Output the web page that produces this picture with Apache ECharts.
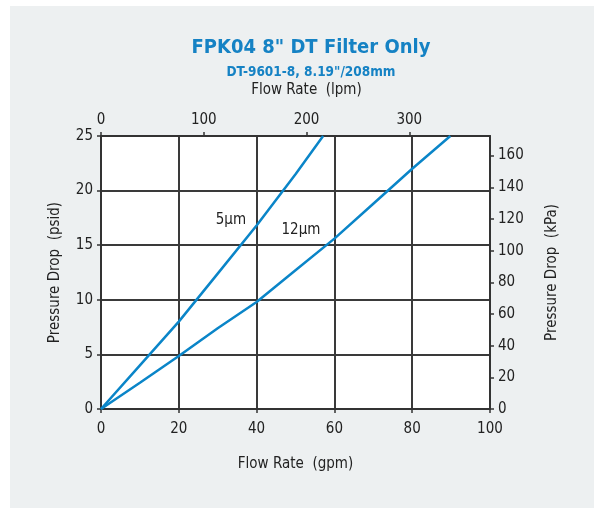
<!DOCTYPE html>
<html>
<head>
<meta charset="utf-8">
<script src="https://cdn.jsdelivr.net/npm/echarts@6/dist/echarts.min.js"></script>
<style>
html,body{margin:0;padding:0;background:#fff;}
#chart{width:594px;height:508px;background:linear-gradient(#edf0f1,#edf0f1) 10px 6px / 584px 502px no-repeat, #fff;}
</style>
</head>
<body>
<div id="chart"></div>
<script>
// Data (gpm, psid)
const gpm5 = [0, 10, 20, 30, 40, 50, 57.1];
const psid5 = [0, 4.0, 8.0, 12.4, 16.8, 21.5, 25];
const gpm12 = [0, 10, 20, 30, 40, 50, 60, 70, 80, 89.8];
const psid12 = [0, 2.4, 4.85, 7.4, 9.8, 12.7, 15.6, 18.8, 22.0, 25];
const seriesNames = ['5µm', '12µm'];
const labelPos5 = [33.4, 17.3];
const labelPos12 = [51.4, 16.4];
const GPM_TO_LPM = 3.78541;
const PSI_TO_KPA = 6.89476;

const FONT = '"Liberation Sans Narrow", "DejaVu Sans Condensed", "Roboto", sans-serif';
const axisColor = '#333';
const blue = '#0a85c8';

function zip(a, b) { return a.map((v, i) => [v, b[i]]); }

const chart = echarts.init(document.getElementById('chart'), null, {renderer: 'canvas'});
const tickLbl = {color: '#222', fontFamily: FONT, fontSize: 15};
const nameStyle = {color: '#222', fontFamily: FONT, fontSize: 15};

chart.setOption({
  backgroundColor: 'transparent',
  animation: false,
  title: [
    {text: 'FPK04 8" DT Filter Only', left: 306, top: 33, textAlign: 'center',
     textStyle: {color: '#1582c4', fontFamily: FONT, fontWeight: 'bold', fontSize: 20}},
    {text: 'DT-9601-8, 8.19"/208mm', left: 306, top: 60, textAlign: 'center',
     textStyle: {color: '#1582c4', fontFamily: FONT, fontWeight: 'bold', fontSize: 13.5}}
  ],
  grid: {left: 101, right: 104, top: 136, bottom: 99, show: true, backgroundColor: '#fff', borderWidth: 0},
  xAxis: [
    {type: 'value', position: 'bottom', min: 0, max: 100, interval: 20,
     name: 'Flow Rate  (gpm)', nameLocation: 'middle', nameGap: 48, nameTextStyle: nameStyle,
     axisLine: {onZero: false, lineStyle: {color: axisColor, width: 2}},
     axisTick: {show: true, length: 4, lineStyle: {color: axisColor, width: 1.5}},
     axisLabel: Object.assign({margin: 13}, tickLbl),
     splitLine: {show: true, lineStyle: {color: '#3a3a3a', width: 2}}},
    {type: 'value', position: 'top', min: 0, max: 100 * GPM_TO_LPM, interval: 100,
     name: 'Flow Rate  (lpm)', nameLocation: 'middle', nameGap: 38,
     nameTextStyle: Object.assign({padding: [0, 0, 0, 22]}, nameStyle),
     axisLine: {onZero: false, lineStyle: {color: axisColor, width: 2}},
     axisTick: {show: true, length: 4, lineStyle: {color: axisColor, width: 1.5}},
     axisLabel: Object.assign({margin: 8, showMaxLabel: false}, tickLbl),
     splitLine: {show: false}}
  ],
  yAxis: [
    {type: 'value', position: 'left', min: 0, max: 25, interval: 5,
     name: 'Pressure Drop  (psid)', nameLocation: 'middle', nameGap: 38, nameTextStyle: nameStyle,
     axisLine: {show: true, onZero: false, lineStyle: {color: axisColor, width: 2}},
     axisTick: {show: true, length: 4, lineStyle: {color: axisColor, width: 1.5}},
     axisLabel: Object.assign({margin: 8}, tickLbl),
     splitLine: {show: true, lineStyle: {color: '#3a3a3a', width: 2}}},
    {type: 'value', position: 'right', min: 0, max: 25 * PSI_TO_KPA, interval: 20,
     name: 'Pressure Drop  (kPa)', nameLocation: 'middle', nameGap: 55, nameTextStyle: nameStyle,
     axisLine: {show: true, onZero: false, lineStyle: {color: axisColor, width: 2}},
     axisTick: {show: true, length: 4, lineStyle: {color: axisColor, width: 1.5}},
     axisLabel: Object.assign({margin: 8, showMaxLabel: false}, tickLbl),
     splitLine: {show: false}}
  ],
  series: [
    {name: seriesNames[0], type: 'line', xAxisIndex: 0, yAxisIndex: 0,
     data: zip(gpm5, psid5), symbol: 'none', smooth: false,
     lineStyle: {color: blue, width: 2.5},
     markPoint: {symbol: 'circle', symbolSize: 0, silent: true,
       data: [{coord: labelPos5, label: {show: true, position: 'inside', formatter: seriesNames[0], color: '#222', fontFamily: FONT, fontSize: 15}}]}},
    {name: seriesNames[1], type: 'line', xAxisIndex: 0, yAxisIndex: 0,
     data: zip(gpm12, psid12), symbol: 'none', smooth: false,
     lineStyle: {color: blue, width: 2.5},
     markPoint: {symbol: 'circle', symbolSize: 0, silent: true,
       data: [{coord: labelPos12, label: {show: true, position: 'inside', formatter: seriesNames[1], color: '#222', fontFamily: FONT, fontSize: 15}}]}}
  ]
});
</script>
</body>
</html>
